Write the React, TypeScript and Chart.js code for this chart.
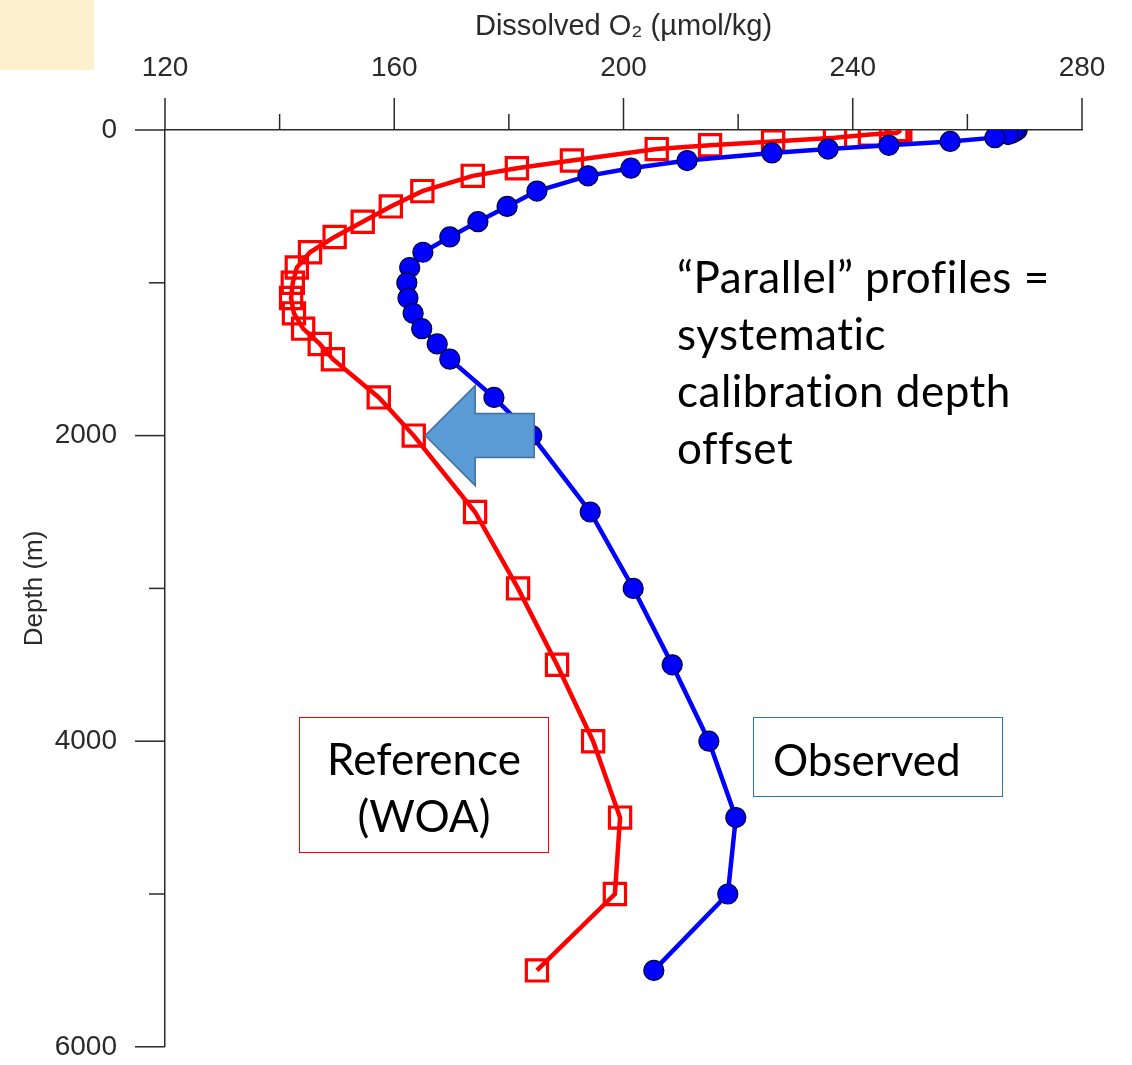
import React, { useEffect, useRef } from "react";
import { Chart, registerables } from "chart.js";

Chart.register(...registerables);

// ---- data ----
const referenceDepths = [0, 10, 20, 30, 50, 75, 100, 125, 200, 250, 300, 400, 500, 600, 700, 800, 900, 1000, 1100, 1200, 1300, 1400, 1500, 1750, 2000, 2500, 3000, 3500, 4000, 4500, 5000, 5500];
const referenceO2 = [248.3, 248.1, 247.6, 243.0, 236.9, 226.1, 215.1, 205.8, 191.0, 181.4, 173.7, 164.9, 159.4, 154.5, 149.6, 145.3, 143.0, 142.3, 142.0, 142.5, 144.1, 147.0, 149.3, 157.3, 163.4, 174.1, 181.6, 188.4, 194.7, 199.4, 198.5, 184.9];

const observedDepths = [0, 10, 20, 30, 50, 75, 100, 125, 150, 200, 250, 300, 400, 500, 600, 700, 800, 900, 1000, 1100, 1200, 1300, 1400, 1500, 1750, 2000, 2500, 3000, 3500, 4000, 4500, 5000, 5500];
const observedO2 = [268.7, 268.3, 267.8, 267.1, 264.8, 257.0, 246.3, 235.7, 225.9, 211.1, 201.3, 193.8, 184.9, 179.7, 174.6, 169.7, 165.0, 162.7, 162.2, 162.4, 163.3, 164.8, 167.5, 169.7, 177.4, 184.0, 194.2, 201.7, 208.5, 214.9, 219.6, 218.2, 205.3];

const xMajorTicks = [120, 160, 200, 240, 280];
const xMinorTicks = [140, 180, 220, 260];
const yMajorTicks = [0, 2000, 4000, 6000];
const yMinorTicks = [1000, 3000, 5000];

const xTitle = "Dissolved O\u2082 (\u00b5mol/kg)";
const yTitle = "Depth (m)";
const noteLines = ["\u201cParallel\u201d profiles =", "systematic", "calibration depth", "offset"];
const referenceLabelLines = ["Reference", "(WOA)"];
const observedLabel = "Observed";

// arrow anchor (data coords)
const arrowTipO2 = 165.4;
const arrowDepth = 2000;

// ---- styles ----
const AXIS_COLOR = "#2a2a2a";
const AXIS_FONT = "'Liberation Sans', Arial, sans-serif";
const NOTE_FONT = "Lato, 'Open Sans', sans-serif";

const axisTicksPlugin = {
  id: "axisTicks",
  afterDraw(chart: any) {
    const { ctx, chartArea } = chart;
    const xs = chart.scales.x;
    const ys = chart.scales.y;
    ctx.save();
    ctx.strokeStyle = AXIS_COLOR;
    ctx.lineWidth = 1.5;
    const seg = (x1: number, y1: number, x2: number, y2: number) => {
      ctx.beginPath();
      ctx.moveTo(x1, y1);
      ctx.lineTo(x2, y2);
      ctx.stroke();
    };
    xMajorTicks.forEach((v) => {
      const p = xs.getPixelForValue(v);
      seg(p, chartArea.top, p, chartArea.top - 32);
    });
    xMinorTicks.forEach((v) => {
      const p = xs.getPixelForValue(v);
      seg(p, chartArea.top, p, chartArea.top - 16);
    });
    yMajorTicks.forEach((v) => {
      const p = ys.getPixelForValue(v);
      seg(chartArea.left, p, chartArea.left - 30, p);
    });
    yMinorTicks.forEach((v) => {
      const p = ys.getPixelForValue(v);
      seg(chartArea.left, p, chartArea.left - 16, p);
    });
    ctx.restore();
  },
};

const arrowPlugin = {
  id: "blockArrow",
  afterDatasetsDraw(chart: any) {
    const { ctx } = chart;
    const tx = chart.scales.x.getPixelForValue(arrowTipO2);
    const ty = chart.scales.y.getPixelForValue(arrowDepth);
    const headLen = 50;
    const headHalf = 50;
    const shaftHalf = 22;
    const shaftLen = 59;
    ctx.save();
    ctx.beginPath();
    ctx.moveTo(tx, ty);
    ctx.lineTo(tx + headLen, ty - headHalf);
    ctx.lineTo(tx + headLen, ty - shaftHalf);
    ctx.lineTo(tx + headLen + shaftLen, ty - shaftHalf);
    ctx.lineTo(tx + headLen + shaftLen, ty + shaftHalf);
    ctx.lineTo(tx + headLen, ty + shaftHalf);
    ctx.lineTo(tx + headLen, ty + headHalf);
    ctx.closePath();
    ctx.fillStyle = "#5B9BD5";
    ctx.fill();
    ctx.strokeStyle = "#41719C";
    ctx.lineWidth = 1.5;
    ctx.stroke();
    ctx.restore();
  },
};

export default function App() {
  const canvasRef = useRef<HTMLCanvasElement | null>(null);

  useEffect(() => {
    if (!canvasRef.current) return;
    const observedPts = observedDepths.map((d, i) => ({ x: observedO2[i], y: d }));
    const referencePts = referenceDepths.map((d, i) => ({ x: referenceO2[i], y: d }));
    const chart = new Chart(canvasRef.current, {
      type: "scatter",
      data: {
        datasets: [
          {
            label: "Observed",
            data: observedPts,
            showLine: true,
            borderColor: "#0000FF",
            borderWidth: 4.5,
            pointStyle: "circle",
            pointRadius: 10,
            pointBackgroundColor: "#0000FF",
            pointBorderColor: "#00003a",
            pointBorderWidth: 1.2,
            order: 0,
          },
          {
            label: "Reference (WOA)",
            data: referencePts,
            showLine: true,
            borderColor: "#FF0000",
            borderWidth: 4.5,
            pointStyle: "rect",
            pointRadius: 15,
            pointBackgroundColor: "rgba(255,255,255,0)",
            pointBorderColor: "#FF0000",
            pointBorderWidth: 3.2,
            order: 1,
          },
        ],
      },
      options: {
        animation: false,
        responsive: false,
        maintainAspectRatio: false,
        layout: { padding: { left: 0, top: 0, right: 50, bottom: 6 } },
        plugins: { legend: { display: false }, tooltip: { enabled: false } },
        scales: {
          x: {
            type: "linear",
            position: "top",
            min: 120,
            max: 280,
            ticks: {
              stepSize: 40,
              color: AXIS_COLOR,
              font: { family: AXIS_FONT, size: 28, lineHeight: 1 },
              padding: 0,
              callback: (v: any) => String(v),
            },
            grid: { display: true, drawOnChartArea: false, drawTicks: true, tickLength: 48, tickColor: "rgba(0,0,0,0)" },
            border: { display: true, color: AXIS_COLOR, width: 1.5 },
            title: {
              display: true,
              text: xTitle,
              color: AXIS_COLOR,
              font: { family: AXIS_FONT, size: 29 },
              padding: { top: 10, bottom: 0 },
            },
            afterFit: (s: any) => {
              s.height = 130;
            },
          },
          y: {
            type: "linear",
            min: 0,
            max: 6000,
            reverse: true,
            ticks: {
              stepSize: 2000,
              color: AXIS_COLOR,
              font: { family: AXIS_FONT, size: 28, lineHeight: 0.4 },
              padding: 0,
              callback: (v: any) => String(v),
            },
            grid: { display: true, drawOnChartArea: false, drawTicks: true, tickLength: 48, tickColor: "rgba(0,0,0,0)" },
            border: { display: true, color: AXIS_COLOR, width: 1.5 },
            title: {
              display: true,
              text: yTitle,
              color: AXIS_COLOR,
              font: { family: AXIS_FONT, size: 26 },
              padding: { top: 19, bottom: 0 },
            },
            afterFit: (s: any) => {
              s.width = 165;
            },
          },
        },
      },
      plugins: [axisTicksPlugin, arrowPlugin],
    } as any);
    return () => chart.destroy();
  }, []);

  const textBase: React.CSSProperties = {
    position: "absolute",
    fontFamily: NOTE_FONT,
    fontSize: 44,
    lineHeight: "57px",
    color: "#000",
    whiteSpace: "nowrap",
  };

  return (
    <div style={{ position: "absolute", left: 0, top: 0, width: 1132, height: 1065, background: "#fff", overflow: "hidden" }}>
      <canvas ref={canvasRef} width={1132} height={1065} style={{ display: "block" }} />
      <div style={{ position: "absolute", left: 0, top: 0, width: 94, height: 70, background: "#FDF0CF" }} />
      <div style={{ ...textBase, left: 677, top: 248, letterSpacing: 0.5 }}>
        {noteLines.map((l, i) => (
          <div key={i}>{l}</div>
        ))}
      </div>
      <div
        style={{
          ...textBase,
          left: 299,
          top: 717,
          width: 250,
          height: 136,
          boxSizing: "border-box",
          border: "1.5px solid #FF0000",
          paddingTop: 12,
          textAlign: "center",
        }}
      >
        {referenceLabelLines.map((l, i) => (
          <div key={i}>{l}</div>
        ))}
      </div>
      <div
        style={{
          ...textBase,
          left: 753,
          top: 717,
          width: 250,
          height: 80,
          boxSizing: "border-box",
          border: "1.5px solid #2E75B6",
          paddingTop: 13,
          paddingLeft: 19,
        }}
      >
        {observedLabel}
      </div>
    </div>
  );
}
